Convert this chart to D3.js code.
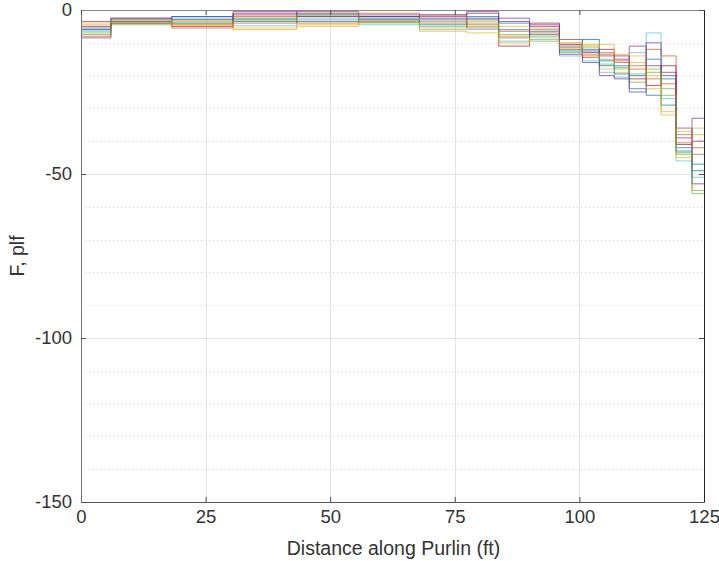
<!DOCTYPE html>
<html>
<head>
<meta charset="utf-8">
<script src="https://cdn.jsdelivr.net/npm/d3@7"></script>
<style>
  html, body { margin: 0; padding: 0; background: #fff; }
  svg { display: block; font-family: "Liberation Sans", Arial, sans-serif; }
</style>
</head>
<body>
<svg id="chart" width="719" height="561"></svg>
<script>
// Segment edges along the purlin (ft)
const edges = [0, 6, 18.2, 30.5, 43.3, 55.7, 67.9, 77.4, 83.8, 90, 96, 100.6, 104, 107, 110, 113.4, 116.4, 119.4, 122.6, 125];

// Distributed force per segment (plf), one array per load case
const caseA = [-5.5, -3.0, -4.0, -2.5, -1.5, -2.5, -3.0, -2.0, -6.0, -6.5, -11.0, -12.0, -15.5, -17.0, -20.0, -15.0, -21.0, -42.0, -47.0];
const caseB = [-6.0, -3.5, -4.5, -4.0, -2.0, -3.5, -4.0, -4.5, -8.5, -7.0, -12.0, -14.0, -13.0, -16.0, -18.0, -12.0, -14.0, -40.5, -44.0];
const caseC = [-4.5, -4.0, -3.5, -5.5, -4.5, -2.0, -5.5, -3.5, -5.0, -5.5, -10.0, -10.5, -18.0, -19.0, -16.0, -20.0, -32.0, -37.0, -38.0];
const caseD = [-3.5, -2.5, -2.0, -1.0, -0.5, -1.5, -2.0, -1.0, -3.5, -5.0, -9.0, -12.5, -14.0, -15.0, -11.0, -17.0, -19.0, -39.0, -33.0];
const caseE = [-7.0, -4.5, -3.0, -3.0, -3.0, -3.0, -3.5, -5.0, -7.5, -8.0, -13.0, -11.0, -16.5, -18.0, -22.0, -19.0, -24.0, -44.0, -55.0];
const caseF = [-6.5, -3.0, -2.5, -4.8, -2.5, -4.5, -6.0, -6.0, -9.5, -9.0, -14.0, -15.5, -19.0, -20.5, -13.0, -7.0, -27.0, -46.0, -51.0];
const caseG = [-5.0, -3.5, -5.0, -1.5, -1.0, -2.0, -2.5, -2.5, -11.0, -4.0, -10.5, -13.0, -12.0, -14.0, -21.0, -23.0, -17.0, -41.0, -40.0];
const caseH = [-6.0, -4.0, -2.0, -3.5, -3.5, -3.0, -4.5, -3.0, -4.0, -7.5, -12.5, -9.0, -17.0, -19.5, -24.0, -26.0, -29.0, -43.0, -49.0];
const caseI = [-8.0, -4.0, -5.5, -2.0, -4.0, -1.0, -1.5, -5.5, -6.5, -6.0, -11.5, -14.5, -13.5, -15.5, -17.0, -21.0, -22.5, -38.0, -42.0];
const caseJ = [-4.0, -3.0, -4.5, -6.0, -5.0, -4.0, -6.5, -7.0, -10.0, -8.5, -10.0, -11.5, -10.5, -13.5, -14.0, -24.0, -31.0, -45.0, -36.0];
const caseK = [-8.5, -2.5, -3.0, -0.5, -2.0, -2.0, -1.5, -0.5, -2.5, -4.5, -13.5, -16.0, -20.0, -21.0, -25.0, -10.0, -20.0, -36.0, -53.0];
const caseL = [-7.5, -3.5, -4.0, -3.0, -1.5, -3.8, -5.0, -4.0, -8.0, -9.5, -12.0, -13.5, -15.0, -17.5, -19.5, -18.0, -26.0, -43.5, -56.0];
const cases = [caseA, caseB, caseC, caseD, caseE, caseF, caseG, caseH, caseI, caseJ, caseK, caseL];

// Axis ticks
const xTicks = [0, 25, 50, 75, 100, 125];
const yTicks = [-150, -100, -50, 0];
const yMinorTicks = [-140, -130, -120, -110, -90, -80, -70, -60, -40, -30, -20, -10];

// Default line color order
const palette = ["#0072BD", "#D95319", "#EDB120", "#7E2F8E", "#77AC30", "#4DBEEE", "#A2142F"];

const svg = d3.select("#chart");
const plot = { left: 81, right: 704, top: 10, bottom: 502 };

const x = d3.scaleLinear().domain([0, 125]).range([plot.left, plot.right]);
const y = d3.scaleLinear().domain([-150, 0]).range([plot.bottom, plot.top]);

// Plain hyphen-minus tick labels
const fmt = d => String(d);

// Grid
const grid = svg.append("g");
grid.selectAll("line.ymin").data(yMinorTicks).join("line")
  .attr("x1", plot.left).attr("x2", plot.right)
  .attr("y1", d => Math.round(y(d)) + 0.5).attr("y2", d => Math.round(y(d)) + 0.5)
  .attr("stroke", "#d4d4d4").attr("stroke-width", 1).attr("stroke-dasharray", "1,3");
grid.selectAll("line.ymaj").data(yTicks.filter(d => d > -150 && d < 0)).join("line")
  .attr("x1", plot.left).attr("x2", plot.right)
  .attr("y1", d => Math.round(y(d)) + 0.5).attr("y2", d => Math.round(y(d)) + 0.5)
  .attr("stroke", "#e3e3e3").attr("stroke-width", 1);
grid.selectAll("line.xmaj").data(xTicks.filter(d => d > 0 && d < 125)).join("line")
  .attr("y1", plot.top).attr("y2", plot.bottom)
  .attr("x1", d => Math.round(x(d)) + 0.5).attr("x2", d => Math.round(x(d)) + 0.5)
  .attr("stroke", "#e3e3e3").attr("stroke-width", 1);

// Stair lines
const stair = d3.line()
  .x(d => x(d[0]))
  .y(d => y(d[1]))
  .curve(d3.curveStepAfter);

svg.append("g").selectAll("path").data(cases).join("path")
  .attr("d", vals => stair(edges.map((e, i) => [e, vals[Math.min(i, vals.length - 1)]])))
  .attr("fill", "none")
  .attr("stroke", (d, i) => palette[i % palette.length])
  .attr("stroke-width", 1)
  .attr("stroke-opacity", 0.7);

// Axes (ticks pointing inward, box on)
const tickColor = "#4d4d4d";
const tickLen = 5;
const labelFont = "Liberation Sans, Arial, sans-serif";
const axes = svg.append("g");

axes.append("g").attr("transform", `translate(0,${plot.bottom})`)
  .call(d3.axisBottom(x).tickValues(xTicks).tickSizeInner(-tickLen).tickSizeOuter(0).tickPadding(8).tickFormat(fmt))
  .call(g => g.select(".domain").attr("stroke", "#555"))
  .call(g => g.selectAll(".tick line").attr("stroke", tickColor))
  .call(g => g.selectAll("text").attr("font-size", 18.5).attr("fill", "#333").attr("font-family", labelFont));

axes.append("g").attr("transform", `translate(${plot.left},0)`)
  .call(d3.axisLeft(y).tickValues(yTicks).tickSizeInner(-tickLen).tickSizeOuter(0).tickPadding(9).tickFormat(fmt))
  .call(g => g.select(".domain").attr("stroke", "#777"))
  .call(g => g.selectAll(".tick line").attr("stroke", tickColor))
  .call(g => g.selectAll("text").attr("font-size", 18.5).attr("fill", "#333").attr("font-family", labelFont));

axes.append("g").attr("transform", `translate(0,${plot.top})`)
  .call(d3.axisTop(x).tickValues(xTicks).tickSizeInner(-tickLen).tickSizeOuter(0).tickFormat(""))
  .call(g => g.select(".domain").attr("stroke", "#888"))
  .call(g => g.selectAll(".tick line").attr("stroke", tickColor));

axes.append("g").attr("transform", `translate(${plot.right},0)`)
  .call(d3.axisRight(y).tickValues(yTicks).tickSizeInner(-tickLen).tickSizeOuter(0).tickFormat(""))
  .call(g => g.select(".domain").attr("stroke", "#222"))
  .call(g => g.selectAll(".tick line").attr("stroke", tickColor));

// Axis titles
svg.append("text")
  .attr("x", (plot.left + plot.right) / 2 + 1).attr("y", 555)
  .attr("text-anchor", "middle").attr("font-size", 19.5).attr("fill", "#333")
  .text("Distance along Purlin (ft)");

svg.append("text")
  .attr("transform", `translate(24,${(plot.top + plot.bottom) / 2}) rotate(-90)`)
  .attr("text-anchor", "middle").attr("font-size", 19.5).attr("fill", "#333")
  .text("F, plf");
</script>
</body>
</html>
